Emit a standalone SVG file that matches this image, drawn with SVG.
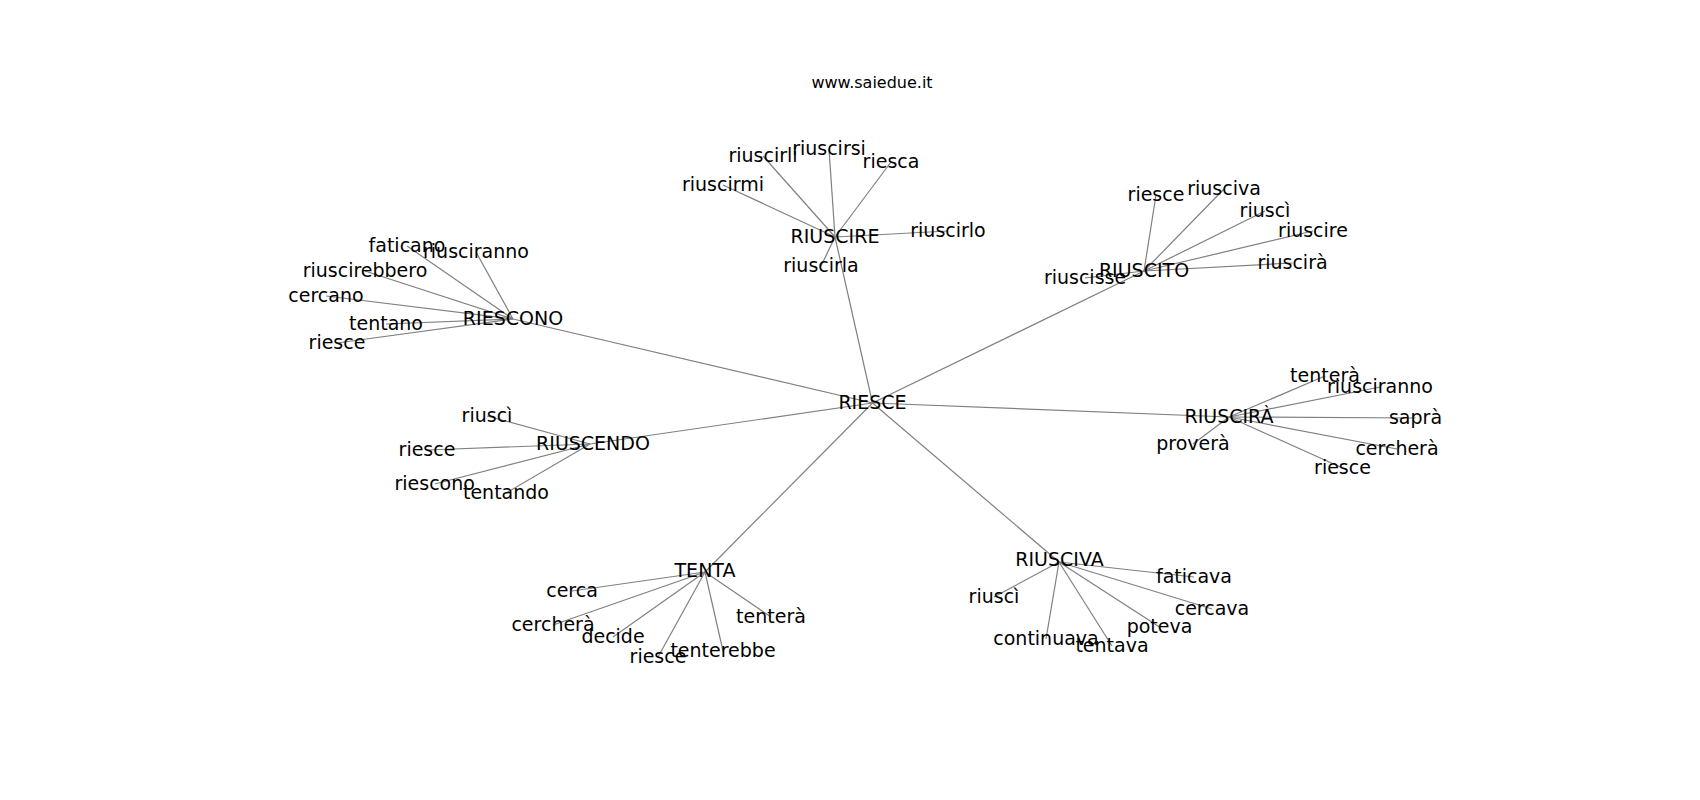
<svg xmlns="http://www.w3.org/2000/svg" width="1700" height="800" viewBox="0 0 1700 800">
<style>
.e{stroke:#808080;stroke-width:1.2;fill:none}
.n{font-family:"DejaVu Sans","Liberation Sans",sans-serif;font-size:19px;fill:#000;text-anchor:middle}
.t{font-family:"DejaVu Sans","Liberation Sans",sans-serif;font-size:16px;fill:#000;text-anchor:middle}
</style>
<rect width="1700" height="800" fill="#fff"/>
<text class="t" x="872" y="88">www.saiedue.it</text>
<g id="edges">
<line class="e" x1="872.5" y1="403" x2="513" y2="319"/>
<line class="e" x1="872.5" y1="403" x2="835" y2="237"/>
<line class="e" x1="872.5" y1="403" x2="1144" y2="271"/>
<line class="e" x1="872.5" y1="403" x2="1229" y2="417"/>
<line class="e" x1="872.5" y1="403" x2="590" y2="444"/>
<line class="e" x1="872.5" y1="403" x2="705" y2="572"/>
<line class="e" x1="872.5" y1="403" x2="1059" y2="562"/>
<!-- RIESCONO -->
<line class="e" x1="513" y1="319" x2="407" y2="246"/>
<line class="e" x1="513" y1="319" x2="476" y2="252"/>
<line class="e" x1="513" y1="319" x2="365" y2="271"/>
<line class="e" x1="513" y1="319" x2="326" y2="296"/>
<line class="e" x1="513" y1="319" x2="386" y2="324"/>
<line class="e" x1="513" y1="319" x2="337" y2="343"/>
<!-- RIUSCIRE -->
<line class="e" x1="835" y1="237" x2="763" y2="156"/>
<line class="e" x1="835" y1="237" x2="829" y2="149"/>
<line class="e" x1="835" y1="237" x2="891" y2="162"/>
<line class="e" x1="835" y1="237" x2="723" y2="185"/>
<line class="e" x1="835" y1="237" x2="948" y2="231"/>
<line class="e" x1="835" y1="237" x2="821" y2="266"/>
<!-- RIUSCITO -->
<line class="e" x1="1144" y1="271" x2="1156" y2="195"/>
<line class="e" x1="1144" y1="271" x2="1224" y2="189"/>
<line class="e" x1="1144" y1="271" x2="1265" y2="211"/>
<line class="e" x1="1144" y1="271" x2="1313" y2="231"/>
<line class="e" x1="1144" y1="271" x2="1292.5" y2="263"/>
<line class="e" x1="1144" y1="271" x2="1085" y2="278"/>
<!-- RIUSCIRA -->
<line class="e" x1="1229" y1="417" x2="1325" y2="376"/>
<line class="e" x1="1229" y1="417" x2="1380" y2="387"/>
<line class="e" x1="1229" y1="417" x2="1415.5" y2="418"/>
<line class="e" x1="1229" y1="417" x2="1193" y2="444"/>
<line class="e" x1="1229" y1="417" x2="1397" y2="449"/>
<line class="e" x1="1229" y1="417" x2="1342.5" y2="468"/>
<!-- RIUSCENDO -->
<line class="e" x1="590" y1="444" x2="487" y2="416"/>
<line class="e" x1="590" y1="444" x2="427" y2="450"/>
<line class="e" x1="590" y1="444" x2="434.7" y2="484"/>
<line class="e" x1="590" y1="444" x2="506" y2="493"/>
<!-- TENTA -->
<line class="e" x1="705" y1="572" x2="572" y2="591"/>
<line class="e" x1="705" y1="572" x2="553" y2="625"/>
<line class="e" x1="705" y1="572" x2="613" y2="637"/>
<line class="e" x1="705" y1="572" x2="658" y2="657"/>
<line class="e" x1="705" y1="572" x2="723" y2="651"/>
<line class="e" x1="705" y1="572" x2="771" y2="617"/>
<!-- RIUSCIVA -->
<line class="e" x1="1059" y1="562" x2="1194" y2="577"/>
<line class="e" x1="1059" y1="562" x2="994" y2="597"/>
<line class="e" x1="1059" y1="562" x2="1212" y2="609"/>
<line class="e" x1="1059" y1="562" x2="1159.5" y2="627"/>
<line class="e" x1="1059" y1="562" x2="1046" y2="639"/>
<line class="e" x1="1059" y1="562" x2="1112" y2="646"/>
</g>
<g id="RIESCE"><text class="n" x="872.5" y="409">RIESCE</text></g>
<g id="RIESCONO"><text class="n" x="513" y="325">RIESCONO</text></g>
<g id="RIUSCIRE"><text class="n" x="835" y="243">RIUSCIRE</text></g>
<g id="RIUSCITO"><text class="n" x="1144" y="277">RIUSCITO</text></g>
<g id="RIUSCIRA"><text class="n" x="1229" y="423">RIUSCIRÀ</text></g>
<g id="RIUSCENDO"><text class="n" x="593" y="450">RIUSCENDO</text></g>
<g id="TENTA"><text class="n" x="705" y="577">TENTA</text></g>
<g id="RIUSCIVA"><text class="n" x="1059.5" y="566">RIUSCIVA</text></g>
<g id="RIESCONO-faticano"><text class="n" x="407" y="252">faticano</text></g>
<g id="RIESCONO-riusciranno"><text class="n" x="476" y="258">riusciranno</text></g>
<g id="RIESCONO-riuscirebbero"><text class="n" x="365" y="277">riuscirebbero</text></g>
<g id="RIESCONO-cercano"><text class="n" x="326" y="302">cercano</text></g>
<g id="RIESCONO-tentano"><text class="n" x="386" y="330">tentano</text></g>
<g id="RIESCONO-riesce"><text class="n" x="337" y="349">riesce</text></g>
<g id="RIUSCIRE-riuscirli"><text class="n" x="763" y="162">riuscirli</text></g>
<g id="RIUSCIRE-riuscirsi"><text class="n" x="829" y="155">riuscirsi</text></g>
<g id="RIUSCIRE-riesca"><text class="n" x="891" y="168">riesca</text></g>
<g id="RIUSCIRE-riuscirmi"><text class="n" x="723" y="191">riuscirmi</text></g>
<g id="RIUSCIRE-riuscirlo"><text class="n" x="948" y="237">riuscirlo</text></g>
<g id="RIUSCIRE-riuscirla"><text class="n" x="821" y="272">riuscirla</text></g>
<g id="RIUSCITO-riesce"><text class="n" x="1156" y="201">riesce</text></g>
<g id="RIUSCITO-riusciva"><text class="n" x="1224" y="195">riusciva</text></g>
<g id="RIUSCITO-riusci"><text class="n" x="1265" y="217">riuscì</text></g>
<g id="RIUSCITO-riuscire"><text class="n" x="1313" y="237">riuscire</text></g>
<g id="RIUSCITO-riuscira"><text class="n" x="1292.5" y="269">riuscirà</text></g>
<g id="RIUSCITO-riuscisse"><text class="n" x="1085" y="284">riuscisse</text></g>
<g id="RIUSCIRA-tentera"><text class="n" x="1325" y="382">tenterà</text></g>
<g id="RIUSCIRA-riusciranno"><text class="n" x="1380" y="393">riusciranno</text></g>
<g id="RIUSCIRA-sapra"><text class="n" x="1415.5" y="424">saprà</text></g>
<g id="RIUSCIRA-provera"><text class="n" x="1193" y="450">proverà</text></g>
<g id="RIUSCIRA-cerchera"><text class="n" x="1397" y="455">cercherà</text></g>
<g id="RIUSCIRA-riesce"><text class="n" x="1342.5" y="474">riesce</text></g>
<g id="RIUSCENDO-riusci"><text class="n" x="487" y="422">riuscì</text></g>
<g id="RIUSCENDO-riesce"><text class="n" x="427" y="456">riesce</text></g>
<g id="RIUSCENDO-riescono"><text class="n" x="434.7" y="490">riescono</text></g>
<g id="RIUSCENDO-tentando"><text class="n" x="506" y="499">tentando</text></g>
<g id="TENTA-cerca"><text class="n" x="572" y="597">cerca</text></g>
<g id="TENTA-cerchera"><text class="n" x="553" y="631">cercherà</text></g>
<g id="TENTA-decide"><text class="n" x="613" y="643">decide</text></g>
<g id="TENTA-riesce"><text class="n" x="658" y="663">riesce</text></g>
<g id="TENTA-tenterebbe"><text class="n" x="723" y="657">tenterebbe</text></g>
<g id="TENTA-tentera"><text class="n" x="771" y="623">tenterà</text></g>
<g id="RIUSCIVA-faticava"><text class="n" x="1194" y="583">faticava</text></g>
<g id="RIUSCIVA-riusci"><text class="n" x="994" y="603">riuscì</text></g>
<g id="RIUSCIVA-cercava"><text class="n" x="1212" y="615">cercava</text></g>
<g id="RIUSCIVA-poteva"><text class="n" x="1159.5" y="633">poteva</text></g>
<g id="RIUSCIVA-continuava"><text class="n" x="1046" y="645">continuava</text></g>
<g id="RIUSCIVA-tentava"><text class="n" x="1112" y="652">tentava</text></g>
</svg>
